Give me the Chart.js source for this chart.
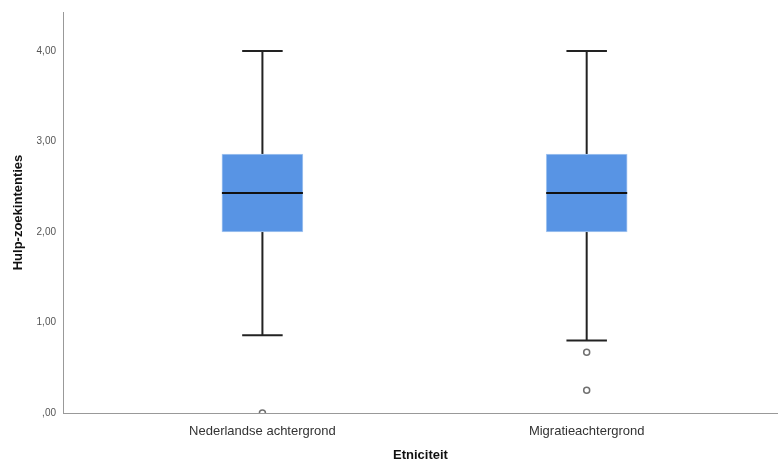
<!DOCTYPE html>
<html>
<head>
<meta charset="utf-8">
<script src="https://cdn.jsdelivr.net/npm/chart.js@4/dist/chart.umd.min.js"></script>
<style>
  html, body { margin: 0; padding: 0; background: #fff; overflow: hidden; }
  #wrap { width: 778px; height: 466px; }
  canvas { display: block; }
</style>
</head>
<body>
<div id="wrap"><canvas id="box-chart"></canvas></div>
<script>
// boxplot values
const groups = ['Nederlandse achtergrond', 'Migratieachtergrond'];
const groupPos = [1, 2];
const whiskerLow = [0.86, 0.80];
const q1 = [2.0, 2.0];
const median = [2.43, 2.43];
const q3 = [2.86, 2.86];
const whiskerHigh = [4.0, 4.0];
const outliers = [[0], [0.67, 0.25]];
const yTicks = [0, 1, 2, 3, 4];

const lineColor = '#222';

// whiskers + caps drawn under the boxes, median on top
const boxPlugin = {
  id: 'boxParts',
  beforeDatasetsDraw(chart) {
    const ctx = chart.ctx;
    const x = chart.scales.x, y = chart.scales.y;
    const bars = chart.getDatasetMeta(0).data;
    ctx.save();
    ctx.strokeStyle = lineColor;
    ctx.lineWidth = 2;
    groups.forEach((g, i) => {
      const cx = x.getPixelForValue(groupPos[i]);
      const half = bars[i].width / 4;
      const yHi = y.getPixelForValue(whiskerHigh[i]);
      const yLo = y.getPixelForValue(whiskerLow[i]);
      ctx.beginPath();
      ctx.moveTo(cx, y.getPixelForValue(q3[i]));
      ctx.lineTo(cx, yHi);
      ctx.moveTo(cx, y.getPixelForValue(q1[i]));
      ctx.lineTo(cx, yLo);
      ctx.moveTo(cx - half, yHi);
      ctx.lineTo(cx + half, yHi);
      ctx.moveTo(cx - half, yLo);
      ctx.lineTo(cx + half, yLo);
      ctx.stroke();
    });
    ctx.restore();
  },
  afterDatasetsDraw(chart) {
    const ctx = chart.ctx;
    const x = chart.scales.x, y = chart.scales.y;
    const bars = chart.getDatasetMeta(0).data;
    ctx.save();
    ctx.strokeStyle = '#111';
    ctx.lineWidth = 2;
    groups.forEach((g, i) => {
      const cx = x.getPixelForValue(groupPos[i]);
      const half = bars[i].width / 2;
      const ym = y.getPixelForValue(median[i]);
      ctx.beginPath();
      ctx.moveTo(cx - half, ym);
      ctx.lineTo(cx + half, ym);
      ctx.stroke();
    });
    ctx.restore();
  }
};

const outlierPoints = [];
outliers.forEach((list, i) => list.forEach(v => outlierPoints.push({ x: groupPos[i], y: v })));

new Chart(document.getElementById('box-chart').getContext('2d'), {
  type: 'bar',
  data: {
    datasets: [
      {
        data: groups.map((g, i) => ({ x: groupPos[i], y: [q1[i], q3[i]] })),
        backgroundColor: '#5894e4',
        borderColor: '#a9c9f1',
        borderWidth: 1,
        borderSkipped: false,
        barThickness: 81,
        order: 2
      },
      {
        type: 'scatter',
        data: outlierPoints,
        pointRadius: 3,
        pointBorderWidth: 1.5,
        pointBorderColor: '#707070',
        pointBackgroundColor: '#fff',
        clip: 0,
        order: 1
      }
    ]
  },
  options: {
    responsive: true,
    maintainAspectRatio: false,
    animation: false,
    layout: { autoPadding: false, padding: { top: 12, right: 0, left: 0, bottom: 0 } },
    plugins: { legend: { display: false }, tooltip: { enabled: false } },
    scales: {
      x: {
        type: 'linear',
        offset: false,
        min: 0.385,
        max: 2.59,
        grid: { display: false, drawTicks: false },
        border: { display: true, color: '#999', width: 1 },
        afterBuildTicks: (s) => { s.ticks = groupPos.map(v => ({ value: v })); },
        afterFit: (s) => { s.height = 53; s.paddingLeft = 0; s.paddingRight = 0; },
        ticks: {
          padding: 11,
          color: '#333',
          font: { family: 'Liberation Sans', size: 13 },
          callback: (v) => groups[groupPos.indexOf(v)]
        },
        title: {
          display: true,
          text: 'Etniciteit',
          color: '#111',
          font: { family: 'Liberation Sans', size: 13, weight: 'bold' },
          padding: { top: 0, bottom: 3 }
        }
      },
      y: {
        min: 0,
        max: 4.43,
        grid: { display: false, drawTicks: false },
        border: { display: true, color: '#999', width: 1 },
        afterBuildTicks: (s) => { s.ticks = yTicks.map(v => ({ value: v })); },
        afterFit: (s) => { s.width = 63; s.paddingTop = 0; s.paddingBottom = 0; },
        ticks: {
          padding: 7,
          color: '#555',
          font: { family: 'Liberation Sans', size: 10 },
          callback: (v) => v === 0 ? ',00' : v.toFixed(2).replace('.', ',')
        },
        title: {
          display: true,
          text: 'Hulp-zoekintenties',
          color: '#111',
          font: { family: 'Liberation Sans', size: 13, weight: 'bold' },
          padding: { top: 11, bottom: 0 }
        }
      }
    }
  },
  plugins: [boxPlugin]
});
</script>
</body>
</html>
